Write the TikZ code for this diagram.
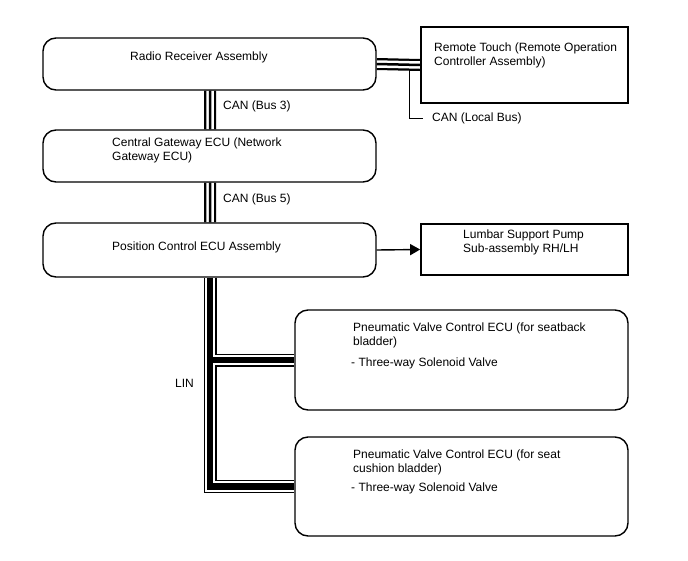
\documentclass[tikz,border=0pt]{standalone}
\usepackage{fontspec}
\setmainfont{Liberation Sans}
\usetikzlibrary{arrows.meta,backgrounds}

\begin{document}
\begin{tikzpicture}[x=1pt,y=-1pt,
	rbox/.style={draw,line width=1.4pt,rounded corners=13pt,minimum width=333pt,inner sep=0pt},
	sbox/.style={draw,line width=1.7pt,minimum width=207pt,inner sep=0pt},
	lbl/.style={anchor=west,align=left,inner sep=0pt}]
	\tikzstyle{every node}=[font=\fontsize{12pt}{14pt}\selectfont]
	
	\useasboundingbox (0,0) rectangle (688,560);
	
	% boxes
	\node[rbox,minimum height=52pt] (radio) at (209.5,64) {};
	\node[rbox,minimum height=52pt] (gw) at (209.5,156) {};
	\node[rbox,minimum height=54pt] (pos) at (209.5,250) {};
	\node[sbox,minimum height=76pt] (remote) at (524.5,65) {};
	\node[sbox,minimum height=51pt] (lumbar) at (524.5,249.5) {};
	\node[rbox,minimum height=100pt] (pv1) at (461.5,360) {};
	\node[rbox,minimum height=99pt] (pv2) at (461.5,486.5) {};
	
	% texts
	\node[lbl] (radiotxt) at (130,57) {Radio Receiver Assembly};
	\node[lbl] (remotetxt) at (434,55.5) {Remote Touch (Remote Operation\\Controller Assembly)};
	\node[lbl] (localtxt) at (432,118) {CAN (Local Bus)};
	\node[lbl] (bus3txt) at (223,106) {CAN (Bus 3)};
	\node[lbl] (gwtxt) at (112,150) {Central Gateway ECU (Network\\Gateway ECU)};
	\node[lbl] (bus5txt) at (223,199) {CAN (Bus 5)};
	\node[lbl] (postxt) at (112,247) {Position Control ECU Assembly};
	\node[lbl] (lumbartxt) at (463,242) {Lumbar Support Pump\\Sub-assembly RH/LH};
	\node[lbl] (pv1txt) at (353,335) {Pneumatic Valve Control ECU (for seatback\\bladder)};
	\node[lbl] (pv1valve) at (351,363) {- Three-way Solenoid Valve};
	\node[lbl] (pv2txt) at (353,462) {Pneumatic Valve Control ECU (for seat\\cushion bladder)};
	\node[lbl] (pv2valve) at (351,488) {- Three-way Solenoid Valve};
	\node[lbl] (lintxt) at (175,383) {LIN};
	
	\coordinate (busx) at (210,0);
	\coordinate (tap) at (409,64);
	
	% buses
	\begin{scope}[on background layer]
		\draw[line width=1pt] (tap) |- ([xshift=-9pt]localtxt.west);
		\foreach \w/\c in {12/black,7.5/white,2.5/black}
		\draw[line width=\w pt,\c] (radio.east) -- (remote.west)
		(radio.south -| busx) -- (gw.north -| busx)
		(gw.south -| busx) -- (pos.north -| busx);
		\foreach \w/\c in {13/black,10.5/white,6.5/black}
		\draw[line width=\w pt,\c] (pos.south -| busx) |- (pv2.west)
		(pos.south -| busx) |- (pv1.west);
	\end{scope}
	
	\draw[line width=1.4pt,-{Triangle[length=10pt,width=11pt]}] (pos.east) -- (lumbar.west);
	
\end{tikzpicture}
\end{document}
